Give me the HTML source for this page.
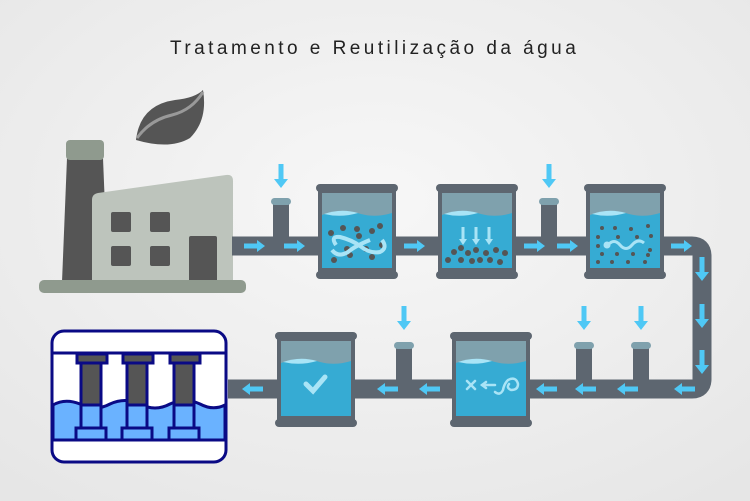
<!DOCTYPE html>
<html><head><meta charset="utf-8"><style>
html,body{margin:0;padding:0;background:#f2f2f2}
svg{display:block}
</style></head><body>
<svg width="750" height="501" viewBox="0 0 750 501" xmlns="http://www.w3.org/2000/svg">
<defs>
<radialGradient id="bg" cx="50%" cy="40%" r="75%"><stop offset="0" stop-color="#f7f7f7"/><stop offset="1" stop-color="#e6e6e6"/></radialGradient>
<g id="ar"><rect x="-11" y="-2.5" width="14" height="5" fill="#4fc8f5"/><polygon points="2,-6 10,0 2,6" fill="#4fc8f5"/></g>
<g id="ad"><rect x="-2.5" y="-14" width="5" height="16" fill="#4fc8f5"/><polygon points="-7,1 7,1 0,10" fill="#4fc8f5"/></g>
<g id="tank">
<rect x="0" y="0" width="82" height="8" rx="4" fill="#5d6670"/>
<rect x="2" y="6" width="78" height="83" fill="#5d6670"/>
<rect x="0" y="87" width="82" height="8" rx="4" fill="#5d6670"/>
<rect x="6" y="9" width="70" height="75" fill="#7fa1ad"/>
<path d="M6 31 Q25 24 45 30 Q60 34 76 29 V84 H6Z" fill="#36abd3"/>
<path d="M8 30 Q25 24 42 29 Q25 34 8 30Z" fill="#a9e4f6"/>
</g>
</defs>
<rect width="750" height="501" fill="url(#bg)"/>
<text x="374" y="54" text-anchor="middle" font-family="Liberation Sans Narrow, Liberation Sans, sans-serif" font-size="19" letter-spacing="2.2" textLength="408" fill="#222">Tratamento e Reutilização da água</text>

<!-- leaf -->
<path d="M136 140 Q140 105 175 100 Q195 98 203 90 Q208 120 190 138 Q170 150 136 140Z" fill="#555"/>
<path d="M137 138 Q150 120 172 115 Q192 110 203 92" stroke="#999" stroke-width="3" fill="none"/>

<!-- factory -->
<path d="M67 158 H103 L108 282 H62 Z" fill="#555"/>
<rect x="66" y="140" width="38" height="20" rx="4" fill="#8f9a8e"/>
<path d="M98 193 L226 175 Q233 174 233 181 V282 H92 V200 Q92 194 98 193Z" fill="#bdc4bc"/>
<rect x="111" y="212" width="20" height="20" rx="2" fill="#555"/>
<rect x="150" y="212" width="20" height="20" rx="2" fill="#555"/>
<rect x="111" y="246" width="20" height="20" rx="2" fill="#555"/>
<rect x="150" y="246" width="20" height="20" rx="2" fill="#555"/>
<rect x="189" y="236" width="28" height="46" rx="2" fill="#555"/>
<rect x="39" y="280" width="207" height="13" rx="5" fill="#8f9a8e"/>

<!-- pipes -->
<path d="M232 246 H692 Q702 246 702 256 V379 Q702 389 692 389 H228" stroke="#5d6670" stroke-width="19" fill="none"/>
<!-- risers top -->
<rect x="273" y="200" width="16" height="40" fill="#5d6670"/><rect x="271" y="198" width="20" height="7" rx="3.5" fill="#7fa1ad"/>
<rect x="541" y="200" width="16" height="40" fill="#5d6670"/><rect x="539" y="198" width="20" height="7" rx="3.5" fill="#7fa1ad"/>
<!-- risers bottom -->
<rect x="396" y="345" width="16" height="40" fill="#5d6670"/><rect x="394" y="342" width="20" height="7" rx="3.5" fill="#7fa1ad"/>
<rect x="576" y="345" width="16" height="40" fill="#5d6670"/><rect x="574" y="342" width="20" height="7" rx="3.5" fill="#7fa1ad"/>
<rect x="633" y="345" width="16" height="40" fill="#5d6670"/><rect x="631" y="342" width="20" height="7" rx="3.5" fill="#7fa1ad"/>
<!-- down arrows -->
<use href="#ad" x="281" y="178"/><use href="#ad" x="549" y="178"/>
<use href="#ad" x="404" y="320"/><use href="#ad" x="584" y="320"/><use href="#ad" x="641" y="320"/>
<!-- right arrows top -->
<use href="#ar" x="255" y="246"/><use href="#ar" x="295" y="246"/><use href="#ar" x="415" y="246"/>
<use href="#ar" x="535" y="246"/><use href="#ar" x="568" y="246"/><use href="#ar" x="682" y="246"/>
<!-- vertical down arrows on right -->
<use href="#ad" x="702" y="271"/><use href="#ad" x="702" y="318"/><use href="#ad" x="702" y="364"/>
<!-- left arrows bottom -->
<g transform="translate(684,389) scale(-1,1)"><use href="#ar"/></g>
<g transform="translate(627,389) scale(-1,1)"><use href="#ar"/></g>
<g transform="translate(585,389) scale(-1,1)"><use href="#ar"/></g>
<g transform="translate(546,389) scale(-1,1)"><use href="#ar"/></g>
<g transform="translate(429,389) scale(-1,1)"><use href="#ar"/></g>
<g transform="translate(387,389) scale(-1,1)"><use href="#ar"/></g>
<g transform="translate(252,389) scale(-1,1)"><use href="#ar"/></g>

<!-- tanks -->
<use href="#tank" x="316" y="184"/>
<use href="#tank" x="436" y="184"/>
<use href="#tank" x="584" y="184"/>
<use href="#tank" x="275" y="332"/>
<use href="#tank" x="450" y="332"/>

<!-- tank1 content -->
<g fill="#555"><circle cx="331" cy="233" r="3"/><circle cx="343" cy="228" r="3"/><circle cx="357" cy="229" r="3"/><circle cx="372" cy="231" r="3"/><circle cx="380" cy="226" r="3"/><circle cx="359" cy="236" r="3"/><circle cx="347" cy="249" r="3"/><circle cx="366" cy="249" r="3"/><circle cx="334" cy="260" r="3"/><circle cx="350" cy="255" r="3"/><circle cx="372" cy="257" r="3"/><circle cx="382" cy="245" r="3"/></g>
<path d="M336 245 Q330 236 340 237 Q352 240 360 246 Q370 254 380 252 Q388 248 382 240 M370 240 Q355 246 348 252 Q338 258 332 250" stroke="#a9e4f6" stroke-width="4" fill="none"/>
<!-- tank2 content -->
<g stroke="#a9e4f6" stroke-width="3"><line x1="463" y1="227" x2="463" y2="240"/><line x1="476" y1="227" x2="476" y2="240"/><line x1="489" y1="227" x2="489" y2="240"/></g>
<g fill="#a9e4f6"><polygon points="459,239 467,239 463,245"/><polygon points="472,239 480,239 476,245"/><polygon points="485,239 493,239 489,245"/></g>
<g fill="#555"><circle cx="454" cy="252" r="3"/><circle cx="461" cy="248" r="3"/><circle cx="468" cy="253" r="3"/><circle cx="476" cy="250" r="3"/><circle cx="486" cy="253" r="3"/><circle cx="496" cy="250" r="3"/><circle cx="505" cy="253" r="3"/><circle cx="448" cy="260" r="3"/><circle cx="461" cy="260" r="3"/><circle cx="472" cy="261" r="3"/><circle cx="480" cy="260" r="3"/><circle cx="490" cy="260" r="3"/><circle cx="500" cy="262" r="3"/></g>
<!-- tank3 content -->
<g fill="#555"><circle cx="602" cy="228" r="2"/><circle cx="615" cy="228" r="2"/><circle cx="631" cy="229" r="2"/><circle cx="648" cy="226" r="2"/><circle cx="598" cy="237" r="2"/><circle cx="618" cy="237" r="2"/><circle cx="637" cy="237" r="2"/><circle cx="651" cy="236" r="2"/><circle cx="598" cy="246" r="2"/><circle cx="650" cy="250" r="2"/><circle cx="602" cy="254" r="2"/><circle cx="617" cy="254" r="2"/><circle cx="633" cy="254" r="2"/><circle cx="648" cy="255" r="2"/><circle cx="598" cy="262" r="2"/><circle cx="612" cy="262" r="2"/><circle cx="628" cy="262" r="2"/><circle cx="645" cy="262" r="2"/></g>
<path d="M608 245 Q614 238 620 245 Q626 252 632 245 Q638 238 644 243" stroke="#a9e4f6" stroke-width="3" fill="none"/>
<circle cx="607" cy="245" r="3.5" fill="#a9e4f6"/>
<!-- tank4 check -->
<path d="M306 384 L313 391 L325 377" stroke="#a9e4f6" stroke-width="5" fill="none" stroke-linecap="round"/>
<!-- tank5 content -->
<g stroke="#a9e4f6" stroke-width="2.5" fill="none" stroke-linecap="round">
<line x1="467" y1="381" x2="475" y2="389"/><line x1="475" y1="381" x2="467" y2="389"/>
<line x1="482" y1="385" x2="495" y2="385"/><polyline points="486,382 482,385 486,388"/>
<path d="M495 392 Q500 396 503 390 Q504 384 508 380 Q516 376 518 384 Q518 390 511 390 Q506 388 509 384"/>
</g>

<!-- final box -->
<rect x="52" y="331" width="174" height="131" rx="12" fill="#fff" stroke="#0a0a85" stroke-width="3"/>
<path d="M53 405 Q65 398 80 404 Q95 412 110 404 Q125 397 140 404 Q155 412 170 404 Q185 397 200 404 Q213 411 225 405 V440 H53Z" fill="#6ab2ff" stroke="#0a0a85" stroke-width="3"/>
<line x1="53" y1="353" x2="225" y2="353" stroke="#0a0a85" stroke-width="3"/>
<line x1="53" y1="440" x2="225" y2="440" stroke="#0a0a85" stroke-width="3"/>
<g stroke="#0a0a85" stroke-width="3">
<g><rect x="77" y="354" width="30" height="9" fill="#555"/><rect x="81" y="363" width="20" height="42" fill="#555"/><rect x="81" y="405" width="20" height="23" fill="#6ab2ff"/><rect x="76" y="428" width="30" height="12" fill="#6ab2ff"/></g>
<g transform="translate(46,0)"><rect x="77" y="354" width="30" height="9" fill="#555"/><rect x="81" y="363" width="20" height="42" fill="#555"/><rect x="81" y="405" width="20" height="23" fill="#6ab2ff"/><rect x="76" y="428" width="30" height="12" fill="#6ab2ff"/></g>
<g transform="translate(93,0)"><rect x="77" y="354" width="30" height="9" fill="#555"/><rect x="81" y="363" width="20" height="42" fill="#555"/><rect x="81" y="405" width="20" height="23" fill="#6ab2ff"/><rect x="76" y="428" width="30" height="12" fill="#6ab2ff"/></g>
</g>
</svg>
</body></html>
